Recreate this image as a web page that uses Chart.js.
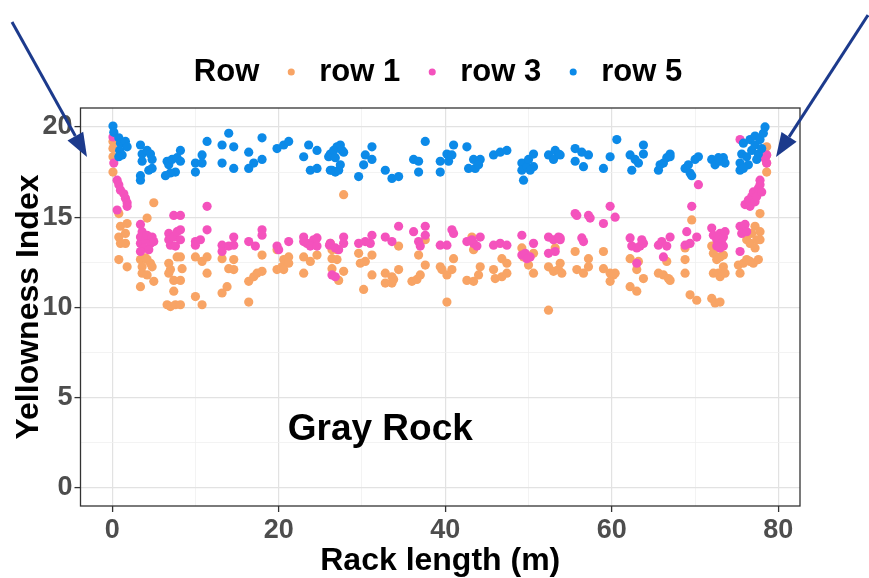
<!DOCTYPE html>
<html>
<head>
<meta charset="utf-8">
<script src="https://cdn.jsdelivr.net/npm/chart.js@4.4.1/dist/chart.umd.min.js"></script>
<style>
  html, body { margin: 0; padding: 0; background: #fff; }
  #wrap { width: 869px; height: 578px; }
</style>
</head>
<body>
<div id="wrap"><canvas id="scatter"></canvas></div>
<script>
// values: [rack length (m), yellowness index]
const row1 = [
  [0.1,18.8],[0.1,18.35],[0.1,17.5],[0.1,19.2],
  [0.8,15.2],[1.0,14.5],[0.8,13.9],[1.0,13.55],[1.8,14.65],[1.6,14.1],[1.6,13.55],[0.8,12.65],[1.8,12.25],
  [5.0,15.8],[4.2,14.95],
  [3.4,12.65],[3.6,12.25],[3.6,11.9],[3.4,11.15],[4.2,12.65],[4.6,12.45],[4.8,12.25],[4.2,11.8],[5.0,11.45],[4.0,12.75],
  [6.8,12.45],[7.0,12.1],[6.8,11.9],[7.8,12.8],[8.2,12.8],[8.4,12.15],[7.4,11.5],[8.2,11.5],[7.4,10.9],[6.6,10.15],[7.0,10.05],[7.6,10.15],[8.2,10.15],
  [10.0,12.8],[10.0,10.6],[10.8,12.55],[10.8,10.15],[11.4,12.8],[11.4,11.9],
  [13.2,12.7],[14.0,12.15],[14.6,12.65],[14.6,12.1],[13.2,10.8],[13.8,11.15],
  [16.4,11.45],[17.0,11.7],[17.4,11.9],[18.0,12.9],[18.0,12.0],[16.4,10.3],
  [19.8,13.2],[19.8,12.1],[20.4,12.25],[20.6,12.65],[21.2,12.8],[21.2,12.45],[20.6,12.1],
  [23.0,12.8],[23.8,12.55],[24.6,12.9],[23.0,11.9],
  [27.8,16.25],
  [26.2,13.55],[26.4,13.2],[27.0,13.2],[26.4,12.7],[27.0,12.65],[26.4,12.15],[27.2,11.5],[27.8,12.0],
  [29.6,13.0],[29.8,12.45],[30.4,12.55],[31.2,12.9],[31.2,11.8],[30.2,11.0],
  [32.8,11.9],[33.6,11.7],[33.6,11.35],[32.8,11.35],[34.4,13.4],[34.4,12.1],[33.8,11.55],
  [36.0,11.45],[36.6,11.55],[37.0,11.8],[36.8,12.9],[37.6,13.75],[37.6,12.35],
  [39.4,12.25],[39.6,12.1],[40.2,11.8],[40.8,12.1],[41.0,12.7],[40.2,10.3],
  [42.6,11.5],[43.4,11.45],[44.0,11.8],[44.2,12.25],[43.2,13.9],[43.4,13.2],
  [45.8,12.1],[46.0,11.6],[46.8,12.7],[46.8,11.7],[47.4,12.45],[47.4,11.9],
  [49.2,13.3],[50.0,12.35],[50.6,13.0],[50.6,11.9],[49.4,12.8],
  [52.4,12.25],[53.0,12.0],[53.6,12.1],[53.8,12.45],[53.2,13.3],[52.4,9.85],[54.0,11.9],
  [55.6,13.1],[55.8,12.1],[56.6,11.9],[57.2,12.7],[57.2,12.25],
  [59.0,13.1],[59.0,12.15],[59.8,11.9],[60.2,11.8],[59.8,11.45],[60.4,11.9],
  [62.2,12.7],[63.0,12.1],[63.2,12.55],[63.8,11.6],[62.2,11.15],[63.0,10.9],
  [65.6,11.9],[66.2,11.8],[66.8,11.6],[67.0,11.5],[66.6,12.55],
  [68.8,13.3],[68.8,12.65],[68.8,11.9],[69.6,14.85],[69.4,10.7],[70.2,10.4],
  [72.0,13.4],[72.2,13.0],[72.6,12.65],[73.0,12.8],[73.4,12.25],[72.8,11.9],[73.0,11.7],[73.6,11.9],[72.2,11.9],[72.0,10.5],[72.4,10.25],[73.0,10.3],[73.4,12.9],
  [75.2,12.35],[75.4,11.9],[75.8,12.45],[76.2,12.65],[76.6,12.55],[77.0,12.45],[77.6,12.65],[76.2,13.75],[76.8,14.1],[77.2,14.5],[77.8,15.2],[77.2,13.3],[76.6,13.55],[77.8,14.2],[77.4,13.75],[77.8,13.75],
  [78.6,18.9],[78.6,18.45],[78.6,18.0],[78.6,17.5]
];

const row3 = [
  [0.1,19.45],[0.2,18.0],[0.6,17.05],[0.8,16.8],[1.0,16.5],[1.4,16.3],[1.6,16.05],[1.8,15.8],[1.8,15.6],[0.6,15.4],
  [3.4,14.6],[3.6,14.2],[3.4,13.9],[3.4,13.55],[4.0,13.75],[4.2,14.0],[4.6,13.55],[4.8,13.9],[3.8,13.3],[4.4,13.2],[5.0,13.65],[3.4,13.1],
  [7.4,15.1],[8.2,15.1],
  [6.8,14.1],[6.8,13.75],[7.0,13.45],[7.4,13.9],[7.8,14.2],[8.2,14.3],[8.2,13.75],[7.6,13.4],
  [11.4,15.6],[10.0,13.65],[10.0,13.45],[10.6,13.75],[11.4,14.3],
  [13.2,13.45],[13.2,13.1],[14.0,13.4],[14.6,13.45],[14.6,13.9],
  [16.4,13.65],[17.2,13.4],[18.0,14.3],[18.0,14.0],
  [19.8,13.4],[20.0,13.2],[21.2,13.65],
  [23.0,13.9],[23.4,13.55],[24.2,13.75],[24.6,13.85],[23.8,13.4],[24.6,13.4],[23.0,13.65],
  [26.1,13.45],[26.2,13.55],[26.8,13.3],[27.2,13.2],[27.8,13.9],[27.8,13.55],[26.4,11.8],[26.8,11.7],
  [29.6,13.55],[30.4,13.65],[31.0,13.55],[31.2,14.0],
  [32.8,13.9],[33.6,13.65],[34.4,14.5],
  [36.2,14.2],[36.8,13.65],[37.0,13.4],[37.6,14.5],[37.6,14.0],
  [39.4,13.45],[40.2,13.45],[40.8,14.3],[41.0,14.1],
  [42.6,13.65],[43.4,13.55],[43.8,13.4],[44.2,13.9],[43.2,13.75],
  [45.8,13.45],[46.6,13.55],[47.4,13.45],
  [49.2,14.0],[49.2,12.9],[49.6,13.0],[50.2,12.8],[50.6,13.55],[49.8,12.7],
  [52.4,13.9],[52.4,13.0],[53.0,13.75],[53.6,13.9],[53.8,13.75],[53.2,13.1],
  [55.6,15.2],[55.8,15.1],[57.2,15.1],[57.4,14.95],
  [53.8,13.85],[56.4,13.85],[56.6,13.65],
  [59.0,14.65],[59.8,15.6],[60.4,15.0],
  [62.2,13.85],[62.4,13.4],[63.0,13.3],[63.4,13.4],[63.8,13.55],[63.0,12.45],[63.6,13.75],
  [65.6,13.45],[66.0,13.65],[66.6,13.4],[67.0,13.9],[66.2,12.8],
  [68.8,13.45],[69.0,14.2],[69.4,13.55],[70.2,13.9],[69.6,15.6],[70.4,16.8],
  [72.0,14.4],[72.2,14.0],[72.6,13.75],[73.0,14.1],[73.2,13.55],[73.4,13.9],[72.6,13.4],[73.4,13.4],[73.0,13.3],[73.6,14.2],
  [75.4,14.5],[75.6,14.1],[75.4,13.1],[76.0,14.6],[76.2,14.2],[75.4,19.3],
  [76.0,15.7],[76.4,15.95],[76.6,15.6],[76.8,16.15],[77.0,16.4],[77.2,15.85],[77.4,16.15],[77.6,16.6],[77.8,17.05],[77.8,16.8],[78.0,16.4],[78.6,18.0],[78.4,18.25],[78.6,18.45]
];

const row5 = [
  [0.1,20.05],[0.2,19.7],[0.8,19.4],[1.0,19.1],[1.6,19.2],[1.8,18.9],[0.9,18.7],[1.2,18.45],[0.8,18.35],
  [3.4,19.0],[3.6,18.5],[4.2,18.7],[4.6,18.5],[4.8,18.2],[3.6,18.1],[4.4,17.6],[3.4,17.3],[3.4,17.05],[4.8,17.7],
  [6.6,18.1],[6.8,17.9],[7.2,18.2],[7.8,18.3],[8.2,18.7],[8.2,18.1],[7.6,17.5],[7.0,17.45],[6.4,17.3],
  [10.0,18.0],[10.0,17.5],[10.8,18.45],[10.8,18.0],[11.4,19.2],
  [13.2,19.0],[14.0,19.65],[14.6,18.9],[13.2,18.0],[14.6,17.7],
  [16.4,18.6],[16.4,17.7],[17.0,18.0],[18.0,18.2],[18.0,19.4],
  [19.8,18.8],[20.6,19.0],[21.2,19.2],
  [23.0,18.35],[23.6,19.0],[24.6,18.7],[23.8,17.6],[24.6,17.7],
  [26.0,18.35],[26.2,17.6],
  [26.2,18.5],[26.6,18.7],[27.0,18.9],[27.4,19.0],[27.6,18.7],[27.8,18.6],[26.8,18.3],[26.4,17.6],[26.8,17.5],[27.2,17.6],[27.4,17.9],
  [29.6,17.25],[30.2,17.9],[30.4,18.45],[31.2,18.9],[31.2,18.2],
  [32.8,17.6],[33.6,17.15],[34.4,17.25],
  [36.2,18.2],[36.8,18.1],[36.8,17.5],[37.6,19.2],
  [39.4,18.1],[39.4,17.5],[40.2,18.5],[40.4,18.1],[41.0,19.0],[40.8,18.45],
  [42.6,18.9],[42.8,17.7],[43.4,18.2],[43.6,17.7],[44.2,18.2],[44.0,17.9],
  [45.8,18.45],[46.6,18.6],[47.4,18.7],
  [49.2,18.0],[49.2,17.6],[49.4,17.05],[49.8,17.8],[50.0,18.2],[50.6,18.5],[50.6,17.8],[50.2,17.6],
  [52.4,18.45],[53.2,18.7],[53.6,18.5],[53.0,18.2],
  [53.8,18.45],[55.6,18.8],[55.6,18.1],[56.4,18.6],[56.6,17.8],[57.2,18.45],
  [59.0,17.7],[59.8,18.35],[60.6,19.3],
  [62.2,18.45],[62.4,17.6],[62.8,18.2],[63.2,18.0],[63.8,19.0],[63.8,18.5],
  [65.6,17.6],[65.8,17.9],[66.2,18.0],[66.6,18.3],[67.0,18.5],[67.0,18.35],
  [68.8,17.7],[69.2,17.9],[69.4,17.45],[70.0,18.2],[70.4,18.35],[69.6,17.3],
  [72.0,18.2],[72.4,17.9],[73.0,18.1],[73.4,18.3],[73.6,18.0],[72.8,18.3],
  [75.4,17.6],[75.4,18.0],[75.6,18.5],[75.8,19.1],[76.2,18.35],[76.6,19.3],[76.8,18.7],[77.2,19.5],[77.2,19.0],[77.6,18.5],[77.8,19.3],[78.2,19.65],[78.4,20.0],[76.4,17.9],[77.4,18.2],[78.0,18.8],[75.8,17.7]
];

const seriesLabels = ['row 1', 'row 3', 'row 5'];
const xTicks = [0, 20, 40, 60, 80];
const yTicks = [0, 5, 10, 15, 20];

const toPoints = (rows) => rows.map(([x, y]) => ({ x, y }));
const isMajor = (list) => (c) => c.tick && list.includes(c.tick.value);

Chart.defaults.font.family = "'Liberation Sans', Arial, sans-serif";

// "Gray Rock" label sits in data space, arrows are plain page decoration
const panelExtras = {
  id: 'panelExtras',
  afterDraw(chart) {
    const { ctx, chartArea, scales } = chart;
    ctx.save();
    ctx.strokeStyle = '#333333';
    ctx.lineWidth = 1.3;
    ctx.strokeRect(chartArea.left, chartArea.top, chartArea.right - chartArea.left, chartArea.bottom - chartArea.top);

    ctx.fillStyle = '#000';
    ctx.font = "bold 37px 'Liberation Sans', Arial, sans-serif";
    ctx.textAlign = 'center';
    ctx.textBaseline = 'middle';
    ctx.fillText('Gray Rock', scales.x.getPixelForValue(32.2), scales.y.getPixelForValue(3.2));

    const arrows = [[12, 22, 87, 157], [868, 15, 776, 157]];
    ctx.strokeStyle = '#1c3a8c';
    ctx.fillStyle = '#1c3a8c';
    ctx.lineWidth = 3;
    arrows.forEach(([x0, y0, x1, y1]) => {
      const a = Math.atan2(y1 - y0, x1 - x0);
      const len = 24, half = 9;
      const bx = x1 - len * Math.cos(a), by = y1 - len * Math.sin(a);
      ctx.beginPath();
      ctx.moveTo(x0, y0);
      ctx.lineTo(bx, by);
      ctx.stroke();
      ctx.beginPath();
      ctx.moveTo(x1, y1);
      ctx.lineTo(bx + half * Math.sin(a), by - half * Math.cos(a));
      ctx.lineTo(bx - half * Math.sin(a), by + half * Math.cos(a));
      ctx.closePath();
      ctx.fill();
    });
    ctx.restore();
  }
};

const colors = ['#f8a465', '#f452bd', '#0c8ae8'];

new Chart(document.getElementById('scatter'), {
  type: 'scatter',
  data: {
    datasets: [row1, row3, row5].map((rows, i) => ({
      label: seriesLabels[i],
      data: toPoints(rows),
      backgroundColor: colors[i],
      borderWidth: 0,
      pointRadius: 4.6,
      order: 3 - i
    }))
  },
  options: {
    responsive: true,
    maintainAspectRatio: false,
    animation: false,
    layout: { padding: { left: 35.5, right: 69, top: 37, bottom: 0 } },
    plugins: {
      tooltip: { enabled: false },
      // empty subtitle under the legend, only used as a spacer
      subtitle: { display: true, text: '', weight: 500, font: { size: 8.75 }, padding: 0 },
      legend: {
        position: 'top',
        onClick: null,
        labels: {
          usePointStyle: true,
          boxWidth: 25,
          boxHeight: 5,
          padding: 19.5,
          color: '#000',
          font: { size: 31, weight: 'bold' },
          generateLabels: (chart) => [{
            text: 'Row', fillStyle: 'rgba(0,0,0,0)', strokeStyle: 'rgba(0,0,0,0)',
            lineWidth: 0, pointStyle: 'circle', hidden: false, datasetIndex: -1
          }].concat(chart.data.datasets.map((ds, i) => ({
            text: ds.label, fillStyle: ds.backgroundColor, strokeStyle: ds.backgroundColor,
            lineWidth: 0, pointStyle: 'circle', hidden: false, datasetIndex: i
          })))
        }
      }
    },
    scales: {
      x: {
        type: 'linear',
        min: -3.8,
        max: 82.6,
        afterFit: (s) => { s.height = 72; },
        border: { display: false },
        grid: {
          color: (c) => isMajor(xTicks)(c) ? '#e2e2e2' : '#f0f0f0',
          lineWidth: (c) => isMajor(xTicks)(c) ? 1.2 : 0.8,
          tickLength: 6,
          tickWidth: 1.3,
          tickColor: (c) => isMajor(xTicks)(c) ? '#333333' : 'rgba(0,0,0,0)'
        },
        ticks: {
          stepSize: 10,
          includeBounds: false,
          autoSkip: false,
          maxRotation: 0,
          padding: 2,
          color: '#4d4d4d',
          font: { size: 27, weight: 'bold' },
          callback: (v) => xTicks.includes(v) ? String(v) : ''
        },
        title: {
          display: true,
          text: 'Rack length (m)',
          color: '#000',
          font: { size: 32, weight: 'bold' },
          padding: { top: 0, bottom: -2 }
        }
      },
      y: {
        min: -1.0,
        max: 21.05,
        afterFit: (s) => { s.width = 45; },
        border: { display: false },
        grid: {
          color: (c) => isMajor(yTicks)(c) ? '#e2e2e2' : '#f0f0f0',
          lineWidth: (c) => isMajor(yTicks)(c) ? 1.2 : 0.8,
          tickLength: 6,
          tickWidth: 1.3,
          tickColor: (c) => isMajor(yTicks)(c) ? '#333333' : 'rgba(0,0,0,0)'
        },
        ticks: {
          stepSize: 2.5,
          includeBounds: false,
          autoSkip: false,
          padding: 2,
          color: '#4d4d4d',
          font: { size: 27, weight: 'bold' },
          callback: (v) => yTicks.includes(v) ? String(v) : ''
        },
        title: {
          display: true,
          text: 'Yellowness Index',
          color: '#000',
          font: { size: 32, weight: 'bold' },
          padding: { top: -25.7, bottom: 0 }
        }
      }
    }
  },
  plugins: [panelExtras]
});
</script>
</body>
</html>
